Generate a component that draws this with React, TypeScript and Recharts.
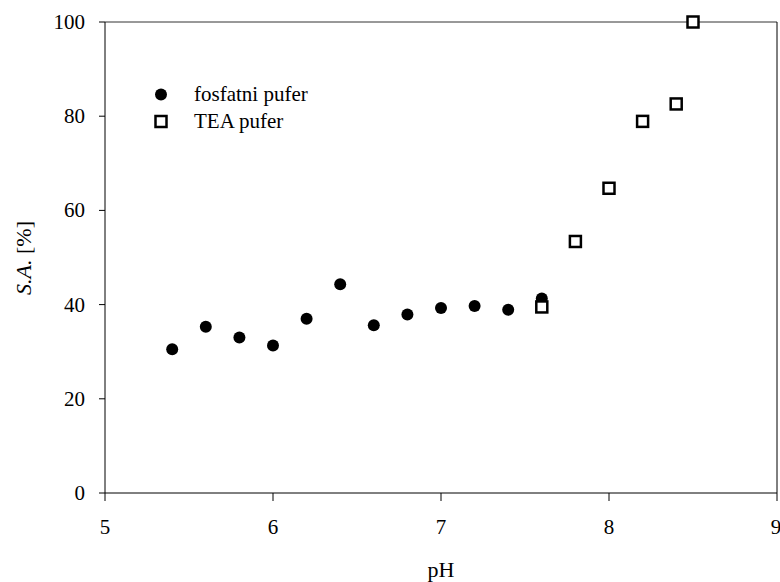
import React from 'react';
import {
  ScatterChart,
  Scatter,
  XAxis,
  YAxis,
  ReferenceLine,
  Legend,
  Label,
} from 'recharts';

const phosphatePH = [5.4, 5.6, 5.8, 6.0, 6.2, 6.4, 6.6, 6.8, 7.0, 7.2, 7.4, 7.6];
const phosphateSA = [30.5, 35.3, 33.0, 31.3, 37.0, 44.3, 35.6, 37.9, 39.3, 39.7, 38.9, 41.3];

const teaPH = [7.6, 7.8, 8.0, 8.2, 8.4, 8.5];
const teaSA = [39.5, 53.4, 64.7, 78.9, 82.6, 100];

const xTicks = [5, 6, 7, 8, 9];
const yTicks = [0, 20, 40, 60, 80, 100];

const seriesNames = ['fosfatni pufer', 'TEA pufer'];

const phosphateData = phosphatePH.map((x, i) => ({ x, y: phosphateSA[i] }));
const teaData = teaPH.map((x, i) => ({ x, y: teaSA[i] }));

const FONT = '"Liberation Serif", "Times New Roman", serif';

const Dot = (props: any) => <circle cx={props.cx} cy={props.cy} r={6} fill="#000" />;

const Square = (props: any) => (
  <rect
    x={props.cx - 5.5}
    y={props.cy - 5.5}
    width={11}
    height={11}
    fill="#fff"
    stroke="#000"
    strokeWidth={2.5}
  />
);

// x tick labels sit under the tick, y tick labels end left of it
const XTick = ({ x, y, payload }: any) => (
  <text x={x} y={y + 31} textAnchor="middle" fontFamily={FONT} fontSize={21} fill="#000">
    {payload.value}
  </text>
);

const YTick = ({ x, y, payload }: any) => (
  <text x={x - 12} y={y + 7} textAnchor="end" fontFamily={FONT} fontSize={21} fill="#000">
    {payload.value}
  </text>
);

const LegendBox = () => (
  <div style={{ fontFamily: FONT, fontSize: 21, color: '#000', lineHeight: '27px' }}>
    {seriesNames.map((name, i) => (
      <div key={name} style={{ display: 'flex', alignItems: 'center' }}>
        <svg width={24} height={27}>
          {i === 0 ? <Dot cx={11} cy={13.5} /> : <Square cx={11} cy={13.5} />}
        </svg>
        <span style={{ marginLeft: 20 }}>{name}</span>
      </div>
    ))}
  </div>
);

export default function App() {
  return (
    <div style={{ width: 780, height: 582, background: '#fff', fontFamily: FONT }}>
      <style>{`body{margin:0}`}</style>
      <ScatterChart width={780} height={582} margin={{ top: 22, right: 3, left: 0, bottom: 0 }}>
        <XAxis
          type="number"
          dataKey="x"
          domain={[5, 9]}
          ticks={xTicks}
          allowDataOverflow
          height={89}
          stroke="#000"
          tickSize={8}
          tick={<XTick />}
        >
          <Label
            content={({ viewBox }: any) => (
              <text
                x={viewBox.x + viewBox.width / 2}
                y={viewBox.y + 84}
                textAnchor="middle"
                fontFamily={FONT}
                fontSize={22}
                fill="#000"
              >
                pH
              </text>
            )}
          />
        </XAxis>
        <YAxis
          type="number"
          dataKey="y"
          domain={[0, 100]}
          ticks={yTicks}
          width={105}
          stroke="#000"
          tickSize={6}
          tick={<YTick />}
        >
          <Label
            content={() => (
              <text
                x={0}
                y={0}
                transform="translate(31, 258) rotate(-90)"
                textAnchor="middle"
                fontFamily={FONT}
                fontSize={22}
                fill="#000"
              >
                <tspan fontStyle="italic">S.A.</tspan>
                <tspan> [%]</tspan>
              </text>
            )}
          />
        </YAxis>
        <ReferenceLine y={100} stroke="#333" strokeWidth={1} />
        <ReferenceLine x={9} stroke="#000" strokeWidth={1} />
        <Legend
          layout="vertical"
          align="center"
          verticalAlign="middle"
          wrapperStyle={{ left: 150, top: 81, width: 220 }}
          content={() => <LegendBox />}
        />
        <Scatter name={seriesNames[0]} data={phosphateData} shape={Dot} isAnimationActive={false} />
        <Scatter name={seriesNames[1]} data={teaData} shape={Square} isAnimationActive={false} />
      </ScatterChart>
    </div>
  );
}
